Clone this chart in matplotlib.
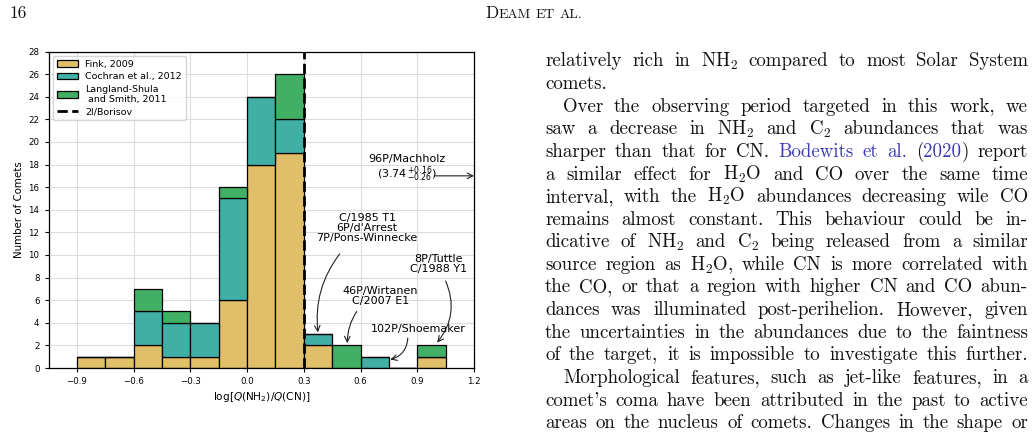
import matplotlib
matplotlib.use("Agg")
import matplotlib.pyplot as plt
from matplotlib.patches import Patch
from matplotlib.lines import Line2D

# histogram bins (left edges) and stacked counts per survey
bin_left = [-0.9, -0.75, -0.6, -0.45, -0.3, -0.15, 0.0, 0.15, 0.3, 0.45, 0.6, 0.75, 0.9]
bin_width = 0.15
fink_2009 = [1, 1, 2, 1, 1, 6, 18, 19, 2, 0, 0, 0, 1]
cochran_2012 = [0, 0, 3, 3, 3, 9, 6, 3, 1, 0, 1, 0, 0]
langland_2011 = [0, 0, 2, 1, 0, 1, 0, 4, 0, 2, 0, 0, 1]
borisov = 0.3

series = [fink_2009, cochran_2012, langland_2011]
series_labels = ["Fink, 2009", "Cochran et al., 2012", "Langland-Shula\n and Smith, 2011"]
series_colors = ["#E1BE6A", "#40B0A6", "#41AF64"]

x_ticks = [-0.9, -0.6, -0.3, 0.0, 0.3, 0.6, 0.9, 1.2]
y_ticks = list(range(0, 29, 2))

# comet notes: label, label position, arrow start, arrow tip, curvature
note_labels = ["C/1985 T1\n6P/d'Arrest\n7P/Pons-Winnecke",
               "46P/Wirtanen\nC/2007 E1",
               "8P/Tuttle\nC/1988 Y1",
               "102P/Shoemaker"]
note_pos = [(0.635, 12.4), (0.705, 6.35), (1.01, 9.2), (0.905, 3.45)]
note_start = [(0.49, 10.1), (0.58, 5.0), (1.05, 7.7), (0.85, 2.65)]
note_tip = [(0.375, 3.15), (0.53, 2.2), (1.005, 2.25), (0.757, 0.75)]
note_rad = [0.2, 0.15, -0.3, -0.35]

machholz_label = "96P/Machholz\n(3.74$\\,^{+0.16}_{-0.26}$)"
machholz_pos = (0.847, 17.6)
machholz_arrow = [(0.995, 17.0), (1.2, 17.0)]

# page text around the figure
header_page = "16"
header_title = ["DEAM", "ET", "AL."]
body_lines = [
    "relatively rich in NH$_2$ compared to most Solar System",
    "comets.",
    "Over the observing period targeted in this work, we",
    "saw a decrease in NH$_2$ and C$_2$ abundances that was",
    "sharper than that for CN. §Bodewits et al.§ (§2020§) report",
    "a similar effect for H$_2$O and CO over the same time",
    "interval, with the H$_2$O abundances decreasing wile CO",
    "remains almost constant.  This behaviour could be in-",
    "dicative of NH$_2$ and C$_2$ being released from a similar",
    "source region as H$_2$O, while CN is more correlated with",
    "the CO, or that a region with higher CN and CO abun-",
    "dances was illuminated post-perihelion. However, given",
    "the uncertainties in the abundances due to the faintness",
    "of the target, it is impossible to investigate this further.",
    "Morphological features, such as jet-like features, in a",
    "comet's coma have been attributed in the past to active",
    "areas on the nucleus of comets. Changes in the shape or",
]
indented = [2, 14]
ragged = [1]

W, H = 1034, 434
fig = plt.figure(figsize=(W / 100, H / 100), dpi=100)
ax = fig.add_axes([48.5 / W, 1 - 368 / H, 425.5 / W, 316.5 / H])

bottom = [0] * len(bin_left)
for vals, lab, col in zip(series, series_labels, series_colors):
    ax.bar(bin_left, vals, width=bin_width, bottom=bottom, align="edge",
           color=col, edgecolor="black", linewidth=0.9, zorder=2)
    bottom = [b + v for b, v in zip(bottom, vals)]

ax.axvline(borisov, color="black", ls="--", lw=2.0, zorder=3)

ax.set_xlim(-1.05, 1.2)
ax.set_ylim(0, 28)
ax.set_xticks(x_ticks)
ax.set_yticks(y_ticks)
ax.grid(True, color="#dcdcdc", lw=0.8)
ax.set_axisbelow(True)
ax.tick_params(labelsize=6.2, length=3, width=0.8)
for s in ax.spines.values():
    s.set_linewidth(0.9)
ax.set_ylabel("Number of Comets", fontsize=7.4, labelpad=3)
ax.set_xlabel("log[$Q$(NH$_2$)/$Q$(CN)]", fontsize=7.6, labelpad=3)

handles = [Patch(facecolor=c, edgecolor="black", linewidth=0.9) for c in series_colors]
handles.append(Line2D([], [], color="black", ls="--", lw=2.0))
ax.legend(handles, series_labels + ["2I/Borisov"], loc="upper left", fontsize=6.8,
          handlelength=2.2, borderaxespad=0.5, labelspacing=0.35)

for lab, pos, st, tip, rad in zip(note_labels, note_pos, note_start, note_tip, note_rad):
    ax.text(pos[0], pos[1], lab, fontsize=8, ha="center", va="center",
            linespacing=1.0, zorder=4)
    ax.annotate("", xy=tip, xytext=st,
                arrowprops=dict(arrowstyle="->", lw=0.8, color="#222222",
                                connectionstyle=f"arc3,rad={rad}", shrinkA=0, shrinkB=0))

ax.text(machholz_pos[0], machholz_pos[1], machholz_label, fontsize=8,
        ha="center", va="center", linespacing=1.05, zorder=4)
ax.annotate("", xy=machholz_arrow[1], xytext=machholz_arrow[0],
            arrowprops=dict(arrowstyle="->", lw=0.8, color="#222222",
                            shrinkA=0, shrinkB=0), annotation_clip=False)

# ---------------- page text ----------------
renderer = fig.canvas.get_renderer()
serif = dict(family="cmr10", math_fontfamily="cm", color="#111111")
blue = "#3a3ab4"


def put(s, x, y, size, color=None):
    kw = dict(serif)
    if color:
        kw["color"] = color
    t = fig.text(x / W, 1 - y / H, s, fontsize=size, va="baseline", ha="left", **kw)
    return t, t.get_window_extent(renderer).width


def split_words(line):
    on = False
    words = []
    for w in line.split():
        segs = []
        for k, p in enumerate(w.split("§")):
            if k > 0:
                on = not on
            if p:
                segs.append((p, on))
        words.append(segs)
    return words


def place_line(line, x0, x1, y, size, justify):
    items = []
    total = 0
    for segs in split_words(line):
        parts = []
        wsum = 0
        for s, b in segs:
            t, w = put(s, 0, y, size, blue if b else None)
            parts.append((t, w))
            wsum += w
        items.append((parts, wsum))
        total += wsum
    space = 0.333 * size * 100 / 72
    if justify and len(items) > 1:
        space = (x1 - x0 - total) / (len(items) - 1)
    x = x0
    for parts, wsum in items:
        xx = x
        for t, w in parts:
            t.set_x(xx / W)
            xx += w
        x += wsum + space


body_size = 13.6
left, right = 545, 1028
base0, step = 66.5, 22.6
for i, line in enumerate(body_lines):
    x0 = left + (18 if i in indented else 0)
    place_line(line, x0, right, base0 + i * step, body_size, i not in ragged)

put(header_page, 10, 18.5, 12.5)
xh = 485
t, w = put("D", xh, 18.5, 12.5)
xh += w
for k, word in enumerate(header_title):
    txt = word[1:] if k == 0 else word
    t, w = put(txt, xh, 18.5, 9.9)
    xh += w + 5

fig.savefig("out.png", dpi=100)
